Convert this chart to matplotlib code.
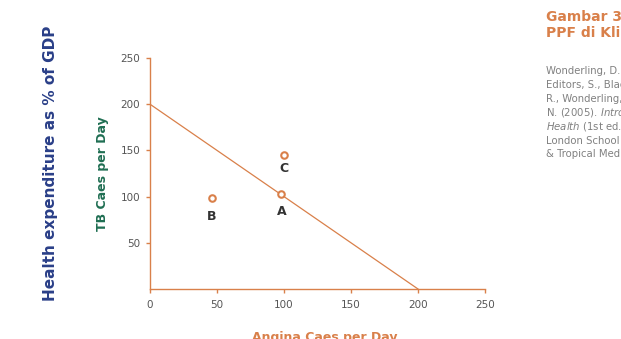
import matplotlib
matplotlib.use("Agg")
import matplotlib.pyplot as plt

# data
ppf_x = [0, 200]
ppf_y = [200, 0]
point_labels = ["A", "B", "C"]
point_x = [98, 46, 100]
point_y = [103, 98, 145]
x_ticks = [0, 50, 100, 150, 200, 250]
y_ticks = [50, 100, 150, 200, 250]

ORANGE = "#D9804A"
GREEN = "#1F6E52"
NAVY = "#2A3F88"
GRAY = "#555555"
DARK = "#333333"

plt.rcParams['font.family'] = ['DejaVu Sans']

fig = plt.figure(figsize=(6.21, 3.39), dpi=100)
ax = fig.add_axes([150/621, 50/339, 335/621, 231/339])

ax.plot(ppf_x, ppf_y, color=ORANGE, lw=0.9, zorder=2)
ax.scatter(point_x, point_y, s=22, facecolors="white", edgecolors=ORANGE, linewidths=1.5, zorder=3)

offsets = {"A": (0, -13), "B": (0, -13), "C": (0, -10)}
for lab, x, y in zip(point_labels, point_x, point_y):
    dx, dy = offsets[lab]
    ax.annotate(lab, (x, y), xytext=(dx, dy), textcoords="offset points",
                ha="center", va="center", fontsize=9, fontweight="bold", color=DARK)

ax.set_xlim(0, 250)
ax.set_ylim(0, 250)
ax.set_xticks(x_ticks)
ax.set_yticks(y_ticks)
for s in ["top", "right"]:
    ax.spines[s].set_visible(False)
for s in ["left", "bottom"]:
    ax.spines[s].set_color(ORANGE)
    ax.spines[s].set_linewidth(1.0)
ax.tick_params(axis="both", colors=ORANGE, labelcolor=GRAY, labelsize=7.5, length=3, width=1.0)
ax.tick_params(axis="x", pad=5)
ax.tick_params(axis="y", pad=4)

ax.set_ylabel("TB Caes per Day", color=GREEN, fontsize=9, fontweight="bold", labelpad=8)

fig.text(325/621, 1 - 337/339, "Angina Caes per Day", ha="center", va="center",
         color=ORANGE, fontsize=9, fontweight="bold")

fig.text(51/621, 1 - 163/339, "Health expenditure as % of GDP", rotation=90,
         ha="center", va="center", color=NAVY, fontsize=11, fontweight="bold")

fig.text(546/621, 1 - 17/339, "Gambar 3", ha="left", va="center",
         color=ORANGE, fontsize=10, fontweight="bold")
fig.text(546/621, 1 - 33/339, "PPF di Klinik", ha="left", va="center",
         color=ORANGE, fontsize=10, fontweight="bold")

cite_lines = [
    "Wonderling, D.,",
    "Editors, S., Black,",
    "R., Wonderling, D.,",
    r"N. (2005). $\it{Introduction}$",
    r"$\it{Health}$ (1st ed.).",
    "London School of",
    "& Tropical Medicine.",
]
for i, line in enumerate(cite_lines):
    fig.text(546/621, 1 - (71 + i*13.9)/339, line, ha="left", va="center",
             color="#808080", fontsize=7.3)

fig.savefig("out.png", dpi=100)
